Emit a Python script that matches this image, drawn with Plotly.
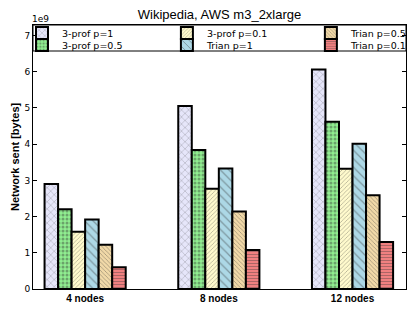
import plotly.graph_objects as go

categories = ["4 nodes", "8 nodes", "12 nodes"]
series_names = ["3-prof p=1", "3-prof p=0.5", "3-prof p=0.1", "Trian p=1", "Trian p=0.5", "Trian p=0.1"]
prof_p1 = [2.90, 5.05, 6.06]
prof_p05 = [2.20, 3.84, 4.62]
prof_p01 = [1.58, 2.77, 3.32]
trian_p1 = [1.92, 3.33, 4.01]
trian_p05 = [1.22, 2.14, 2.59]
trian_p01 = [0.60, 1.08, 1.30]
y_ticks = [0, 1, 2, 3, 4, 5, 6, 7]

values = [prof_p1, prof_p05, prof_p01, trian_p1, trian_p05, trian_p01]
colors = ["#e6e6fa", "#90ee90", "#fffacd", "#add8e6", "#f1d9a8", "#f08080"]
patterns = [("x", 5, 0.18), (".", 4, 0.45), ("/", 3, 0.25), ("\\", 6, 0.2), ("\\", 3, 0.28), ("-", 3, 0.3)]

# legend slots (column-major like matplotlib, 3 columns x 2 rows)
leg_x = [-0.0295, -0.0295, 0.359, 0.359, 0.745, 0.745]
leg_y = [0.970, 0.924, 0.970, 0.924, 0.970, 0.924]

fig = go.Figure()
for i, (name, vals) in enumerate(zip(series_names, values)):
    shape, size, sol = patterns[i]
    lname = "legend" if i == 0 else f"legend{i+1}"
    fig.add_trace(go.Bar(
        x=categories, y=vals, name=name, showlegend=True,
        marker=dict(color=colors[i], line=dict(color="black", width=2),
                    pattern=dict(shape=shape, size=size, solidity=sol,
                                 fgcolor="#333333", fgopacity=0.4)),
        legend=lname,
    ))

layout_legends = {}
for i in range(6):
    lname = "legend" if i == 0 else f"legend{i+1}"
    layout_legends[lname] = dict(
        x=leg_x[i], y=leg_y[i], xanchor="left", yanchor="middle",
        bgcolor="rgba(0,0,0,0)", borderwidth=0, visible=True,
        font=dict(family="DejaVu Sans", size=9.5, color="black"),
    )

fig.update_layout(
    width=415, height=312,
    showlegend=True,
    margin=dict(l=33, r=9, t=25, b=23, autoexpand=False),
    paper_bgcolor="white", plot_bgcolor="white",
    barmode="group", bargap=0.393, bargroupgap=0,
    title=dict(text="Wikipedia, AWS m3_2xlarge", x=0.5, xref="paper",
               y=1 - 14 / 312, yanchor="middle", xanchor="center",
               font=dict(family="Liberation Sans", size=13, color="black")),
    xaxis=dict(range=[-0.39, 2.40], showline=True, mirror=True, linecolor="black",
               linewidth=1, ticks="", showgrid=False,
               tickfont=dict(family="Liberation Sans", size=10, color="black", weight="bold")),
    yaxis=dict(range=[0, 7.29], tickvals=y_ticks, ticktext=[str(t) for t in y_ticks],
               showline=True, mirror="ticks", linecolor="black", linewidth=1,
               ticks="inside", ticklen=4, tickcolor="black", showgrid=False, zeroline=False,
               tickfont=dict(family="DejaVu Sans", size=9, color="black")),
    shapes=[dict(type="rect", xref="paper", yref="paper", x0=0, x1=1,
                 y0=(289 - 51) / 264, y1=1, line=dict(color="black", width=1),
                 fillcolor="rgba(0,0,0,0)", layer="below")],
    annotations=[
        dict(text="Network sent [bytes]", xref="paper", yref="paper",
             x=(15 - 33) / 373, y=0.5, xanchor="center", yanchor="middle",
             textangle=-90, showarrow=False,
             font=dict(family="Liberation Sans", size=11, color="black", weight="bold")),
        dict(text="1e9", xref="paper", yref="paper", x=(40 - 33) / 373, y=(289 - 19) / 264,
             xanchor="center", yanchor="middle", showarrow=False,
             font=dict(family="DejaVu Sans", size=9, color="black")),
    ],
    **layout_legends,
)

fig.write_html("out.html", config={"displayModeBar": False},
               post_script="document.body.style.margin='0px';")
